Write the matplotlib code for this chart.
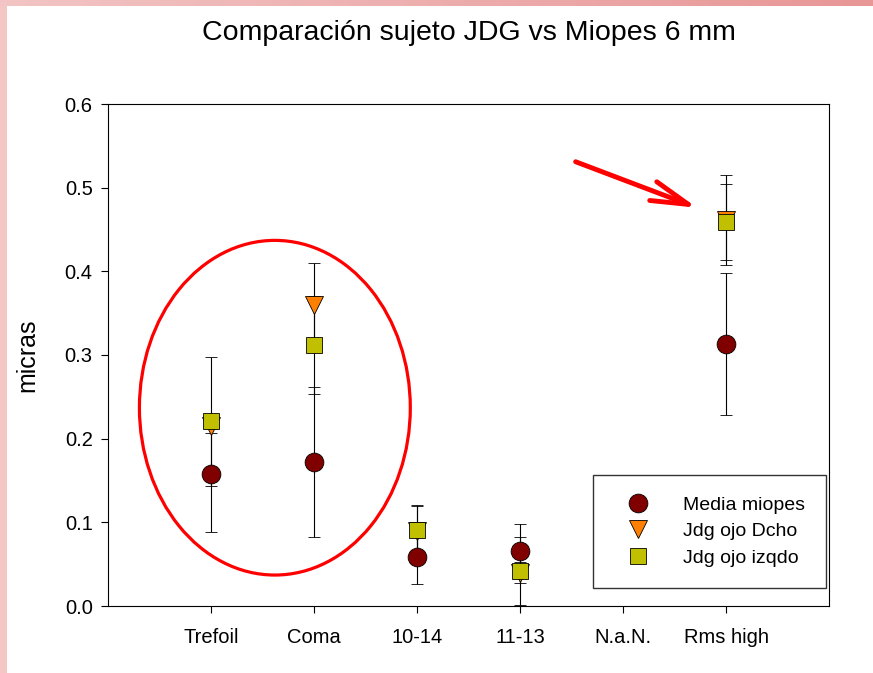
import numpy as np
import matplotlib
matplotlib.use("Agg")
import matplotlib.pyplot as plt
from matplotlib.patches import Ellipse

plt.rcParams["font.family"] = ["Liberation Sans", "DejaVu Sans"]

categories = ["Trefoil", "Coma", "10-14", "11-13", "N.a.N.", "Rms high"]

media_miopes = [0.158, 0.172, 0.058, 0.066, np.nan, 0.313]
media_err = [0.070, 0.090, 0.032, 0.032, np.nan, 0.085]

ojo_dcho = [0.215, 0.360, 0.090, 0.040, np.nan, 0.461]
dcho_err = [0.008, 0.050, 0.030, 0.012, np.nan, 0.054]

ojo_izqdo = [0.221, 0.312, 0.091, 0.042, np.nan, 0.459]
izqdo_err = [0.077, 0.059, 0.030, 0.041, np.nan, 0.045]

yticks = [0.0, 0.1, 0.2, 0.3, 0.4, 0.5, 0.6]

fig = plt.figure(figsize=(8.73, 6.73), dpi=100)

# pink frame of the slide (left strip + gradient top strip)
left_strip = fig.add_axes([0, 0, 7 / 873, 1])
left_strip.axis("off")
left_strip.imshow([[[0.96, 0.78, 0.78]]], aspect="auto", extent=[0, 1, 0, 1])
top_strip = fig.add_axes([0, 1 - 6 / 673, 1, 6 / 673])
top_strip.axis("off")
grad = np.linspace(0, 1, 256)
c0 = np.array([0.95, 0.77, 0.77])
c1 = np.array([0.91, 0.59, 0.59])
top_strip.imshow((c0 + (c1 - c0) * grad[:, None])[None, :, :], aspect="auto",
                 extent=[0, 1, 0, 1])

ax = fig.add_axes([108 / 873, 67 / 673, 721 / 873, 502 / 673])
x = np.arange(1, len(categories) + 1)

err_kw = dict(ecolor="black", elinewidth=0.8, capsize=4, capthick=0.8,
              linestyle="none", markeredgecolor="black", markeredgewidth=0.6)

eb1 = ax.errorbar(x, media_miopes, yerr=media_err, fmt="o", markersize=13.5,
                  markerfacecolor="#800000", label="Media miopes", **err_kw)
eb2 = ax.errorbar(x, ojo_dcho, yerr=dcho_err, fmt="v", markersize=13,
                  markerfacecolor="#ff8000", label="Jdg ojo Dcho", **err_kw)
eb3 = ax.errorbar(x, ojo_izqdo, yerr=izqdo_err, fmt="s", markersize=12,
                  markerfacecolor="#c0c000", label="Jdg ojo izqdo", **err_kw)

ax.set_xlim(0, 7)
ax.set_ylim(0, 0.6)
ax.set_xticks(x)
ax.set_xticklabels(categories)
ax.set_yticks(yticks)
ax.set_yticklabels([f"{v:.1f}" for v in yticks])
ax.tick_params(direction="out", length=5, width=0.8, labelsize=14.5)
ax.tick_params(axis="x", pad=11)
ax.tick_params(axis="y", pad=6)
for s in ax.spines.values():
    s.set_linewidth(0.8)

ax.set_ylabel("micras", fontsize=18, labelpad=18)
fig.text(468.5 / 873, 1 - 33 / 673, "Comparación sujeto JDG vs Miopes 6 mm",
         fontsize=20.5, ha="center", va="center")

# legend with markers only (no error bars)
handles = [eb[0] for eb in (eb1, eb2, eb3)]
labels = ["Media miopes", "Jdg ojo Dcho", "Jdg ojo izqdo"]
leg = ax.legend(handles, labels, loc="lower right",
                bbox_to_anchor=(0.996, 0.036), fontsize=14,
                frameon=True, fancybox=False, edgecolor="black",
                borderpad=1.1, labelspacing=0.45, handletextpad=1.1,
                borderaxespad=0, handlelength=2.4)
leg.get_frame().set_linewidth(1.0)

# red annotations
ax.add_patch(Ellipse((1.62, 0.237), 2.63, 0.40, fill=False, edgecolor="red",
                     linewidth=2.3, zorder=5))
ax.annotate("", xy=(5.72, 0.476), xytext=(4.54, 0.531),
            arrowprops=dict(arrowstyle="->,head_length=1.35,head_width=0.36",
                            mutation_scale=20, color="red", lw=3.5,
                            shrinkA=0, shrinkB=0, capstyle="round"))

fig.savefig("out.png", dpi=100)
